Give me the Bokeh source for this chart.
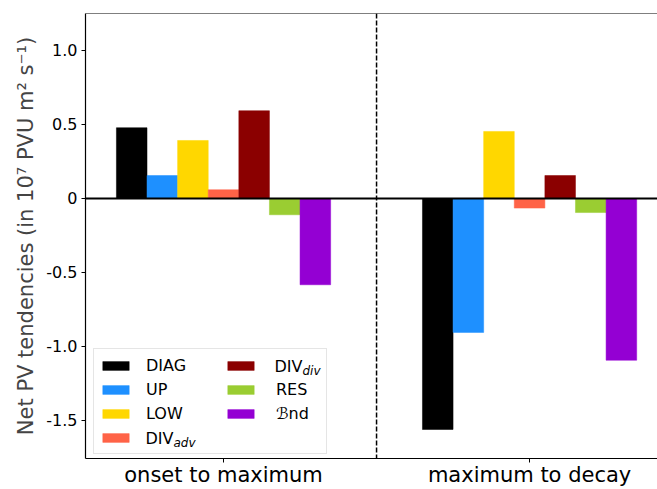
from bokeh.plotting import figure
from bokeh.models import (Range1d, Span, FixedTicker, PrintfTickFormatter,
                          Legend, LegendItem, Label)
from bokeh.embed import file_html
from bokeh.resources import INLINE

# periods (x categories)
periods = ["onset to maximum", "maximum to decay"]

# net PV tendencies per term (in 10^7 PVU m^2 s^-1), one value per period
DIAG = [0.478, -1.561]
UP = [0.155, -0.905]
LOW = [0.392, 0.453]
DIV_adv = [0.059, -0.065]
DIV_div = [0.593, 0.155]
RES = [-0.110, -0.095]
BND = [-0.583, -1.093]

series = [DIAG, UP, LOW, DIV_adv, DIV_div, RES, BND]
# the two DIV entries get their text (with subscript) drawn separately
names = ["DIAG", "UP", "LOW", " ", " ", "RES", "\u212cnd"]
colors = ["black", "#1E90FF", "#FFD700", "#FF6347", "#8B0000", "#9ACD32", "#9400D3"]

FONT = "DejaVu Sans"
width = 0.1  # bar width

p = figure(width=657, height=489, output_backend="svg", toolbar_location=None,
           x_range=Range1d(-0.451, 1.418), y_range=Range1d(-1.757, 1.25),
           min_border_left=85, min_border_right=0, min_border_top=13, min_border_bottom=26)
p.outline_line_color = None
p.xgrid.grid_line_color = None
p.ygrid.grid_line_color = None

xs = list(range(len(periods)))
renderers = []
for i, (vals, col) in enumerate(zip(series, colors)):
    off = (i - 3) * width
    r = p.vbar(x=[x + off for x in xs], top=vals, bottom=0, width=width,
               fill_color=col, line_color=col, line_width=0.5)
    renderers.append(r)

# zero line, separator and top spine
p.add_layout(Span(location=0, dimension="width", line_color="black", line_width=1.8))
p.add_layout(Span(location=0.5, dimension="height", line_color="black",
                  line_width=1.5, line_dash="5 2"))
p.add_layout(Span(location=1.25, dimension="width", line_color="black", line_width=1.2))

# axes
p.xaxis.ticker = FixedTicker(ticks=xs)
p.xaxis.major_label_overrides = {i: t for i, t in enumerate(periods)}
p.xaxis.major_label_text_font = FONT
p.xaxis.major_label_text_font_size = "21px"
p.xaxis.major_label_standoff = 0
p.yaxis.ticker = FixedTicker(ticks=[-1.5, -1.0, -0.5, 0, 0.5, 1.0])
p.yaxis.formatter = PrintfTickFormatter(format="%.1f")
p.yaxis.major_label_overrides = {0: "0"}
p.yaxis.major_label_text_font = FONT
p.yaxis.major_label_text_font_size = "16px"
p.yaxis.major_label_standoff = 4
p.yaxis.axis_label = "Net PV tendencies (in 10\u2077 PVU m\u00b2 s\u207b\u00b9)"
p.yaxis.axis_label_text_font = FONT
p.yaxis.axis_label_text_font_size = "21px"
p.yaxis.axis_label_text_font_style = "normal"
p.yaxis.axis_label_standoff = 5
for ax in (p.xaxis[0], p.yaxis[0]):
    ax.axis_line_color = "black"
    ax.axis_line_width = 1.2
    ax.major_tick_out = 4
    ax.major_tick_in = 0
    ax.major_tick_line_color = "black"
    ax.minor_tick_line_color = None
    ax.major_label_text_color = "black"

# legend: framed first column, second column laid on top of it
LX, LY = 8, 4
pad, gw, gh, so, lh, sp = 5, 33, 11, 14, 22, 2
box_w = 232
col2_dx = 134
style = dict(padding=pad, margin=0, spacing=sp, glyph_width=gw, glyph_height=gh,
             label_height=lh, label_text_color="black",
             label_text_font=FONT, label_text_font_size="16px")
items = [LegendItem(label=n, renderers=[r]) for n, r in zip(names, renderers)]
h_a = 2 * pad + 4 * lh + 3 * sp
h_b = 2 * pad + 3 * lh + 2 * sp
leg_a = Legend(items=items[:4], location=(LX, LY), label_standoff=so,
               label_width=box_w - 2 * pad - gw - so,
               border_line_color="#cccccc", border_line_width=1,
               background_fill_color=None, **style)
leg_b = Legend(items=items[4:], location=(LX + col2_dx - pad + 2, LY + h_a - h_b + 6),
               label_standoff=so + 5, label_width=20,
               border_line_color=None, background_fill_color=None, **style)
p.add_layout(leg_a, "center")
p.add_layout(leg_b, "center")

# DIV entries with italic subscripts
div_w = 28
txt = dict(x_units="screen", y_units="screen", text_font=FONT, text_color="black",
           text_baseline="middle", level="overlay")
for x0, yc, subs in [(LX + pad + gw + so, LY + pad + lh / 2, "adv"),
                     (LX + col2_dx + gw + so, LY + h_a - pad - lh / 2, "div")]:
    p.add_layout(Label(x=x0, y=yc, text="DIV", text_font_size="16px", **txt))
    p.add_layout(Label(x=x0 + div_w, y=yc - 4, text=subs, text_font_size="12px",
                       text_font_style="italic", **txt))

open("out.html", "w").write(file_html(p, INLINE))
